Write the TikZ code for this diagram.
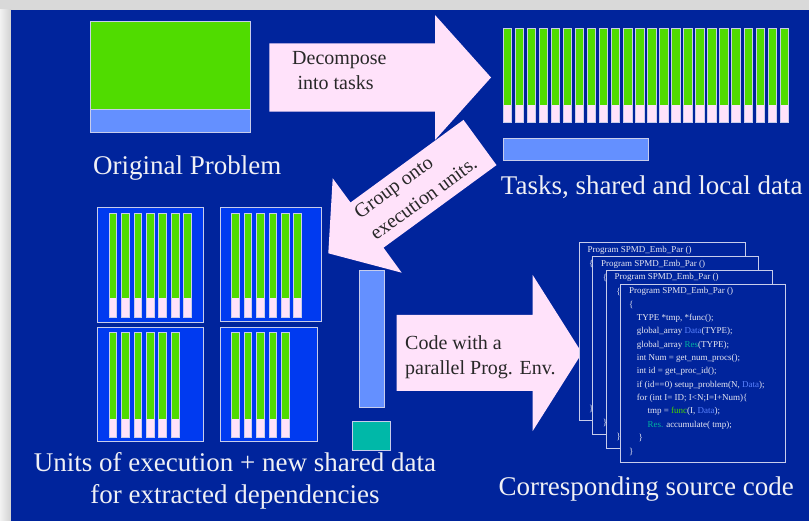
\documentclass[tikz,border=0pt]{standalone}
\usepackage{fontspec}
\setmainfont{Liberation Serif}
\definecolor{bgblue}{RGB}{0,36,156}
\definecolor{unitbg}{RGB}{0,58,240}
\definecolor{grn}{RGB}{80,220,0}
\definecolor{lblue}{RGB}{100,144,255}
\definecolor{pinkc}{RGB}{255,226,250}
\definecolor{tealc}{RGB}{0,184,168}
\definecolor{edgec}{RGB}{200,205,235}
\definecolor{arrowtxt}{RGB}{40,40,40}
\definecolor{labeltxt}{RGB}{240,240,245}
\definecolor{codetxt}{RGB}{232,232,242}
\definecolor{codeblue}{RGB}{90,130,255}
\definecolor{codeteal}{RGB}{0,180,160}
\definecolor{codegreen}{RGB}{70,210,0}
\newcommand\mybar[5]{%
  \fill[grn] (#1,#2) rectangle (#1+#5,#3);
  \fill[pinkc] (#1,#3) rectangle (#1+#5,#4);
  \draw[edgec,line width=0.8] (#1,#2) rectangle (#1+#5,#4);}
\begin{document}
\begin{tikzpicture}[x=1pt,y=-1pt,
  biglabel/.style={inner sep=0,anchor=base west,text=labeltxt,font=\fontsize{27}{31}\selectfont},
  arrowlabel/.style={inner sep=0,anchor=base west,text=arrowtxt,font=\fontsize{20}{25}\selectfont},
  codeline/.style={inner sep=0,anchor=west,text=codetxt,font=\fontsize{9}{11}\selectfont},
  boxedge/.style={draw=edgec,line width=0.9}]
\useasboundingbox (0,0) rectangle (809,521);
\fill[black!15] (0,0) rectangle (809,521);
\shade[left color=white!95!black,right color=black!18] (0,10) rectangle (11,521);
\fill[bgblue] (11,10) rectangle (809,521);

% Original problem
\fill[grn] (90,21.7) rectangle (250,109);
\fill[lblue] (90,109) rectangle (250,132.7);
\draw[edgec,line width=0.9] (90,109) -- (250,109);
\draw[boxedge] (90,21.7) rectangle (250,132.7);
\node[biglabel] (orig) at (93,175) {Original Problem};

% Decompose arrow
\fill[pinkc] (269.3,43.3) -- (435,43.3) -- (435,15) -- (491,77.5) -- (435,140) -- (435,111.7) -- (269.3,111.7) -- cycle;
\node[arrowlabel] (dec1) at (292,65) {Decompose};
\node[arrowlabel] (dec2) at (297.3,90) {into tasks};

% Tasks
\foreach \i in {0,...,23} {\mybar{503.3+12.03*\i}{28.3}{105}{122.3}{8.3}}
\filldraw[fill=lblue,boxedge] (503.3,138.3) rectangle (648.7,160);
\node[biglabel] (tasks) at (500.7,195) {Tasks, shared and local data};

% Group arrow
\fill[pinkc] (463.5,119.9) -- (496.5,165.1) -- (383.5,247.7) -- (401.7,272.7) -- (328.3,253.3) -- (332.7,178.3) -- (350.5,202.5) -- cycle;
\node[arrowlabel,anchor=west,rotate=36] (grp1) at (357.4,215.5) {Group onto};
\node[arrowlabel,anchor=west,rotate=36] (grp2) at (372.1,235.8) {execution units.};

% Units of execution
\filldraw[fill=unitbg,boxedge] (97.3,207.3) rectangle (203.3,322.7);
\filldraw[fill=unitbg,boxedge] (220,207.3) rectangle (321.7,321.7);
\filldraw[fill=unitbg,boxedge] (97.3,327.3) rectangle (203.3,441.7);
\filldraw[fill=unitbg,boxedge] (220,327.3) rectangle (317.5,441.7);
\foreach \i in {0,...,6} {\mybar{109+12.45*\i}{213.3}{298.3}{317.3}{7.7}}
\foreach \i in {0,...,5} {\mybar{231.7+12.4*\i}{213.3}{298.3}{317.3}{7.7}}
\foreach \i in {0,...,5} {\mybar{109+12.45*\i}{332.7}{419}{437.3}{7.7}}
\foreach \i in {0,...,4} {\mybar{231.7+12.4*\i}{332.7}{419}{437.3}{7.7}}
\filldraw[fill=lblue,boxedge] (359,270) rectangle (384.3,407.7);
\filldraw[fill=tealc,boxedge] (352.3,421.7) rectangle (390.7,450.7);
\node[biglabel,anchor=base] (units1) at (235,471.7) {Units of execution + new shared data};
\node[biglabel,anchor=base] (units2) at (235,503.3) {for extracted dependencies};

% Code arrow
\fill[pinkc] (396.7,315) -- (532.7,315) -- (532.7,275) -- (582,353) -- (532.7,431) -- (532.7,391) -- (396.7,391) -- cycle;
\node[arrowlabel] (code1) at (405,350) {Code with a};
\node[arrowlabel] (code2) at (405,375) {parallel Prog. Env.};

% Code pages
\foreach \k in {0,1,2} {
  \filldraw[fill=bgblue,boxedge] (579.3+13.6*\k,242.3+13.9*\k) rectangle ++(165.7,178);
  \node[codeline] at (587.3+13.6*\k,250+13.9*\k) {Program SPMD\_Emb\_Par ()};
  \node[codeline] at (589+13.6*\k,264.3+13.9*\k) {\{};
  \node[codeline] at (589+13.6*\k,409+13.9*\k) {\}};
}
\filldraw[fill=bgblue,boxedge] (620.1,284) rectangle ++(165.7,178);
\node[codeline] (c1) at (629,291.7) {Program SPMD\_Emb\_Par ()};
\node[codeline] (c2) at (629,305) {\{};
\node[codeline] (c3) at (636.7,318.3) {TYPE *tmp, *func();};
\node[codeline] (c4) at (636.7,331.7) {global\_array \textcolor{codeblue}{Data}(TYPE);};
\node[codeline] (c5) at (636.7,345) {global\_array \textcolor{codeteal}{Res}(TYPE);};
\node[codeline] (c6) at (636.7,358.3) {int Num = get\_num\_procs();};
\node[codeline] (c7) at (636.7,371.7) {int id = get\_proc\_id();};
\node[codeline] (c8) at (636.7,385) {if (id==0) setup\_problem(N, \textcolor{codeblue}{Data});};
\node[codeline] (c9) at (636.7,398.3) {for (int I= ID; I<N;I=I+Num)\{};
\node[codeline] (c10) at (647.3,411.7) {tmp = \textcolor{codegreen}{func}(I, \textcolor{codeblue}{Data});};
\node[codeline] (c11) at (647.3,425) {\textcolor{codeteal}{Res.} accumulate( tmp);};
\node[codeline] (c12) at (638.3,438.3) {\}};
\node[codeline] (c13) at (629,451.7) {\}};
\node[biglabel] (src) at (498.3,495) {Corresponding source code};
\end{tikzpicture}
\end{document}
